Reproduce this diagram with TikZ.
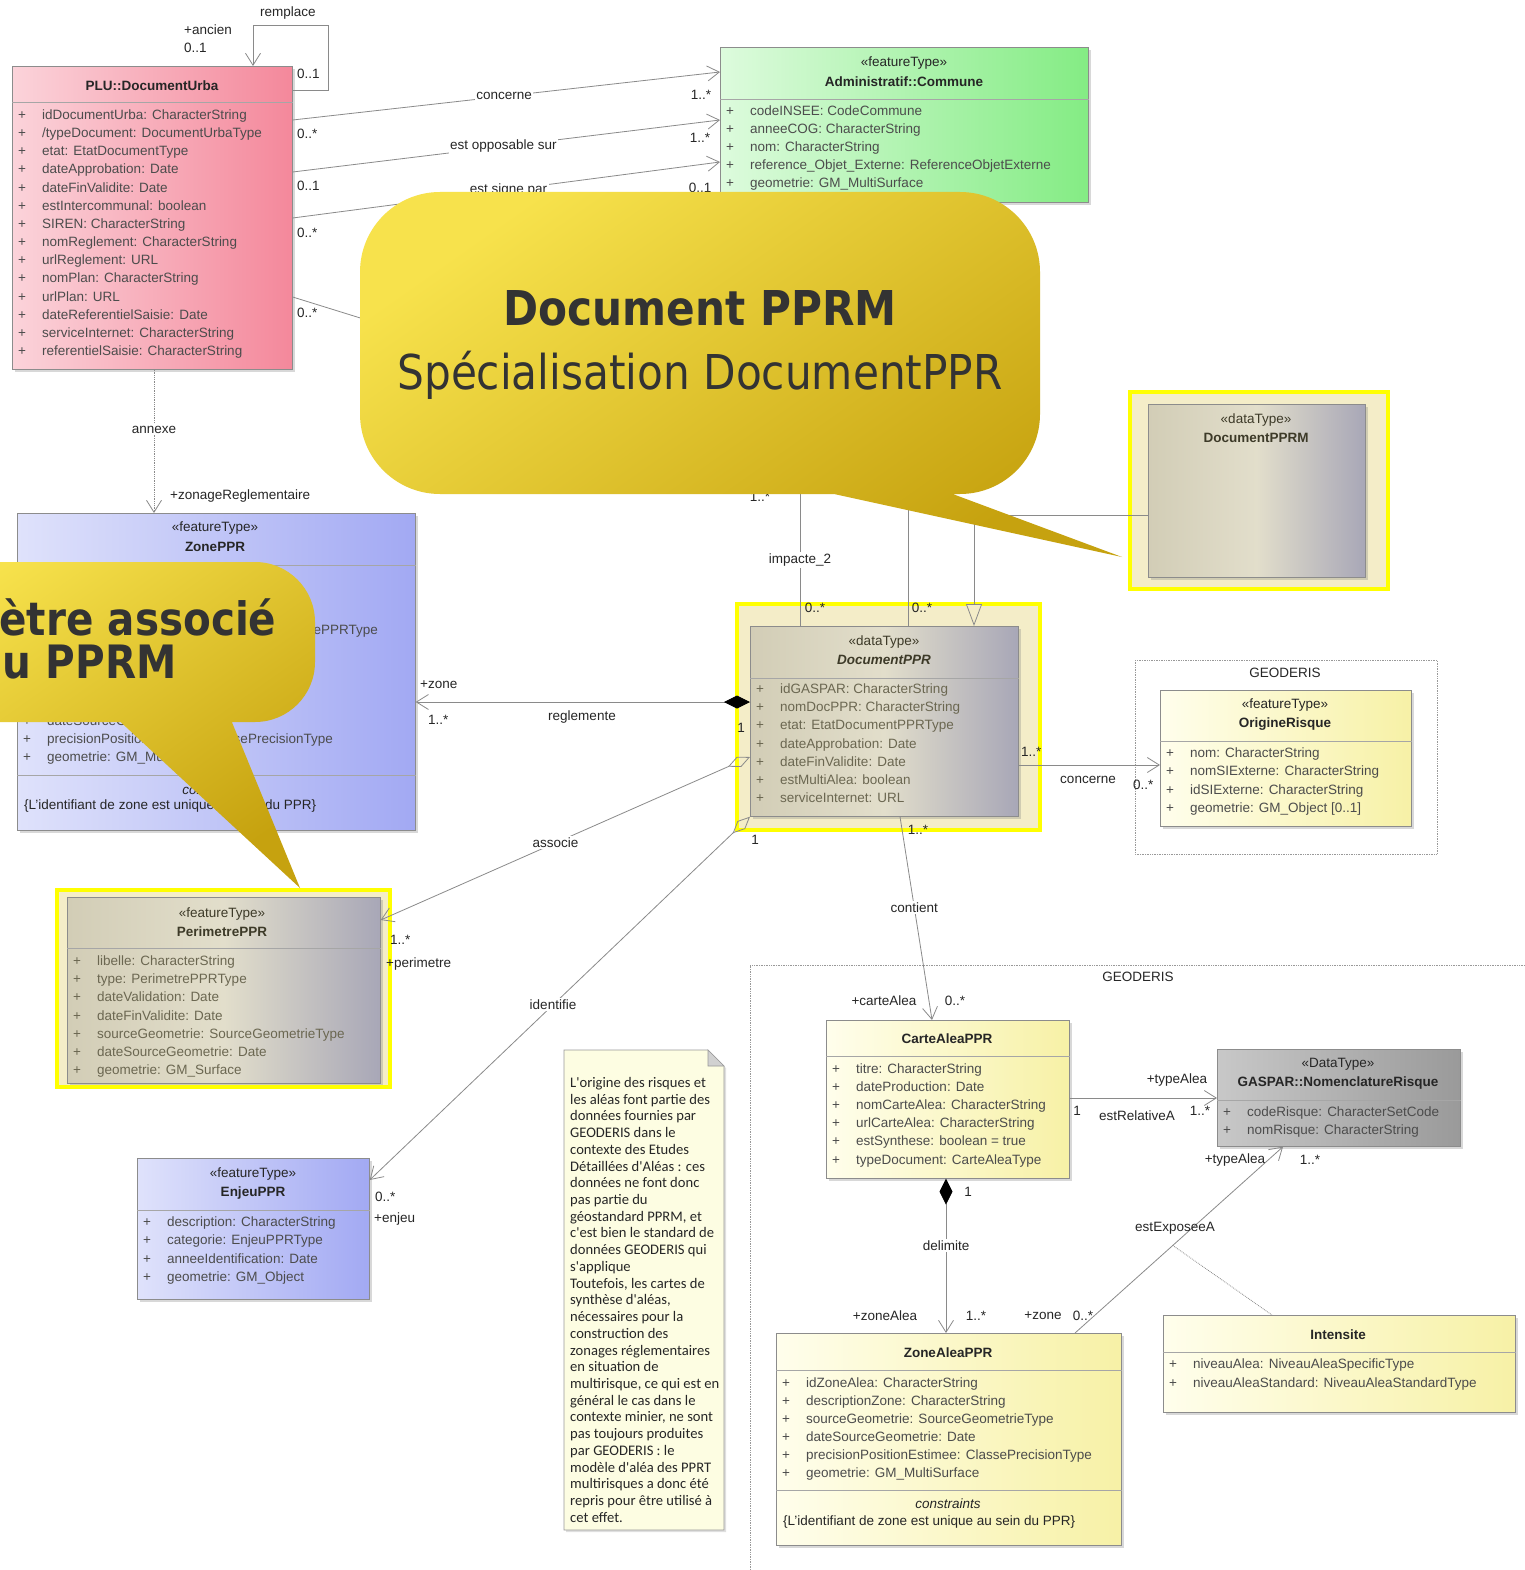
\documentclass[tikz,border=0pt]{standalone}
\usepackage{fontspec}
\setmainfont{Liberation Sans}
\newfontfamily\notefont{Carlito}
\newfontfamily\callfont[FakeStretch=0.88]{DejaVu Sans}
\usetikzlibrary{arrows.meta, shadows, positioning}

\newcommand{\sz}{\fontsize{13.5}{16}\selectfont}

\definecolor{urbaL}{HTML}{FBD3DA}
\definecolor{urbaR}{HTML}{F4889B}
\definecolor{comL}{HTML}{DDFBDD}
\definecolor{comR}{HTML}{84EC84}
\definecolor{bluL}{HTML}{DFE2FB}
\definecolor{bluR}{HTML}{A2A9F3}
\definecolor{yelL}{HTML}{FFFEEC}
\definecolor{yelR}{HTML}{F7F1A6}
\definecolor{gasL}{HTML}{C8C8C8}
\definecolor{gasR}{HTML}{9A9A9A}
\definecolor{dtL}{HTML}{D2CDB6}
\definecolor{dtM}{HTML}{E2DECB}
\definecolor{dtR}{HTML}{A8A7B7}
\definecolor{hlfill}{HTML}{F4EDC8}
\definecolor{hlline}{HTML}{FFFF00}
\definecolor{wire}{HTML}{8A8A8A}
\definecolor{dtink}{HTML}{6B6751}
\definecolor{dthead}{HTML}{3D3A28}
\definecolor{calA}{HTML}{F7E24C}
\definecolor{calB}{HTML}{C6A20F}
\definecolor{calink}{HTML}{333333}
\definecolor{notefill}{HTML}{FDFDE2}

\tikzset{
  cls/.style={draw=black!45, line width=0.7pt, anchor=north west, inner sep=0pt,
    drop shadow={shadow xshift=2.5pt, shadow yshift=-2.5pt, opacity=0.3}},
  ttl/.style={font=\sz\bfseries, text=black!85, inner sep=0pt},
  stereo/.style={font=\sz, text=black!85, inner sep=0pt},
  attr/.style={anchor=west, inner sep=0pt, text=black!70, text height=10pt, text depth=3pt},
  dtattr/.style={attr, text=dtink},
  sep/.style={draw=black!35, line width=0.7pt},
  hl/.style={draw=hlline, line width=4pt, fill=hlfill},
  assoc/.style={draw=wire, line width=0.8pt},
  navig/.style={-{Straight Barb[length=12pt,width=15pt]}},
  lbl/.style={fill=white, inner sep=1.5pt, text=black!85},
  mult/.style={inner sep=0pt, text=black!85},
  pkg/.style={draw=black!40, line width=0.7pt, densely dotted},
  callout/.style={top color=calA, bottom color=calB, shading angle=35},
}

\begin{document}
\begin{tikzpicture}[x=1pt, y=-1pt, every node/.style={font=\sz}]
\useasboundingbox (0,0) rectangle (1524,1570);
\fill[white] (0,0) rectangle (1524,1570);

% packages
\draw[pkg] (1135,660) rectangle (1437,854);
\node[mult] (geo1) at (1285,673) {GEODERIS};
\draw[pkg] (750,1580) -- (750,965) -- (1530,965);
\node[mult] (geo2) at (1138,977) {GEODERIS};

% highlights
\draw[hl] (737,604) rectangle (1040,830);
\draw[hl] (1130,392) rectangle (1388,589);
\draw[hl] (57,890) rectangle (390,1087);

% PLU::DocumentUrba
\node[cls, left color=urbaL, right color=urbaR, minimum width=280, minimum height=303] (urba) at (12,66) {};
\node[ttl] (urba-t) at (152,86) {PLU::DocumentUrba};
\draw[sep] (urba.west |- 0,102) -- (urba.east |- 0,102);
\foreach \a [count=\i from 0] in {idDocumentUrba: CharacterString, /typeDocument: DocumentUrbaType,
  etat: EtatDocumentType, dateApprobation: Date, dateFinValidite: Date, estIntercommunal: boolean,
  SIREN: CharacterString, nomReglement: CharacterString, urlReglement: URL, nomPlan: CharacterString,
  urlPlan: URL, dateReferentielSaisie: Date, serviceInternet: CharacterString, referentielSaisie: CharacterString}
  \node[attr] (urba-\i) at (18,116+18.15*\i) {\makebox[24pt][l]{+}\a};

% Administratif::Commune
\node[cls, left color=comL, right color=comR, minimum width=368, minimum height=155] (com) at (720,47) {};
\node[stereo] (com-s) at (904,63) {«featureType»};
\node[ttl] (com-t) at (904,82) {Administratif::Commune};
\draw[sep] (com.west |- 0,99) -- (com.east |- 0,99);
\foreach \a [count=\i from 0] in {codeINSEE: CodeCommune, anneeCOG: CharacterString, nom: CharacterString,
  reference\_Objet\_Externe: ReferenceObjetExterne, geometrie: GM\_MultiSurface}
  \node[attr] (com-\i) at (726,112+18.1*\i) {\makebox[24pt][l]{+}\a};

% ZonePPR
\node[cls, left color=bluL, right color=bluR, minimum width=398, minimum height=317] (zone) at (17,513) {};
\node[stereo] (zone-s) at (215,528) {«featureType»};
\node[ttl] (zone-t) at (215,547) {ZonePPR};
\draw[sep] (zone.west |- 0,565) -- (zone.east |- 0,565);
\node[attr, anchor=east] (zone-3) at (378,631) {ePPRType};
\foreach \a [count=\i from 8] in {dateSourceGeometrie: Date, precisionPositionEstimee: ClassePrecisionType,
  geometrie: GM\_MultiSurface}
  \node[attr] (zone-\i) at (23,577+18.1*\i) {\makebox[24pt][l]{+}\a};
\draw[sep] (zone.west |- 0,775) -- (zone.east |- 0,775);
\node[stereo, font=\sz\itshape] (zone-c) at (215,790) {constraints};
\node[attr, text=black!85] (zone-k) at (24,806) {\{L'identifiant de zone est unique au sein du PPR\}};

% DocumentPPR
\node[cls, left color=dtL, right color=dtR, middle color=dtM, minimum width=268, minimum height=190] (dppr) at (750,626) {};
\node[stereo, text=dthead] (dppr-s) at (884,642) {«dataType»};
\node[ttl, text=dthead, font=\sz\bfseries\itshape] (dppr-t) at (884,660) {DocumentPPR};
\draw[sep] (dppr.west |- 0,678) -- (dppr.east |- 0,678);
\foreach \a [count=\i from 0] in {idGASPAR: CharacterString, nomDocPPR: CharacterString,
  etat: EtatDocumentPPRType, dateApprobation: Date, dateFinValidite: Date, estMultiAlea: boolean,
  serviceInternet: URL}
  \node[dtattr] (dppr-\i) at (756,690+18.2*\i) {\makebox[24pt][l]{+}\a};

% DocumentPPRM
\node[cls, left color=dtL, right color=dtR, middle color=dtM, minimum width=217, minimum height=173] (dpprm) at (1148,404) {};
\node[stereo, text=dthead] (dpprm-s) at (1256,420) {«dataType»};
\node[ttl, text=dthead] (dpprm-t) at (1256,438) {DocumentPPRM};

% OrigineRisque
\node[cls, left color=yelL, right color=yelR, minimum width=251, minimum height=136] (orig) at (1160,690) {};
\node[stereo] (orig-s) at (1285,705) {«featureType»};
\node[ttl] (orig-t) at (1285,724) {OrigineRisque};
\draw[sep] (orig.west |- 0,741) -- (orig.east |- 0,741);
\foreach \a [count=\i from 0] in {nom: CharacterString, nomSIExterne: CharacterString,
  idSIExterne: CharacterString, geometrie: GM\_Object [0..1]}
  \node[attr] (orig-\i) at (1166,754+18.3*\i) {\makebox[24pt][l]{+}\a};

% PerimetrePPR
\node[cls, left color=dtL, right color=dtR, middle color=dtM, minimum width=313, minimum height=186] (peri) at (67,897) {};
\node[stereo, text=dthead] (peri-s) at (222,914) {«featureType»};
\node[ttl, text=dthead] (peri-t) at (222,932) {PerimetrePPR};
\draw[sep] (peri.west |- 0,948) -- (peri.east |- 0,948);
\foreach \a [count=\i from 0] in {libelle: CharacterString, type: PerimetrePPRType, dateValidation: Date,
  dateFinValidite: Date, sourceGeometrie: SourceGeometrieType, dateSourceGeometrie: Date,
  geometrie: GM\_Surface}
  \node[dtattr] (peri-\i) at (73,962+18.2*\i) {\makebox[24pt][l]{+}\a};
\draw[draw=hlline, line width=4pt] (57,1087) -- (390,1087);

% EnjeuPPR
\node[cls, left color=bluL, right color=bluR, minimum width=232, minimum height=141] (enjeu) at (137,1158) {};
\node[stereo] (enjeu-s) at (253,1174) {«featureType»};
\node[ttl] (enjeu-t) at (253,1193) {EnjeuPPR};
\draw[sep] (enjeu.west |- 0,1210) -- (enjeu.east |- 0,1210);
\foreach \a [count=\i from 0] in {description: CharacterString, categorie: EnjeuPPRType,
  anneeIdentification: Date, geometrie: GM\_Object}
  \node[attr] (enjeu-\i) at (143,1223+18.3*\i) {\makebox[24pt][l]{+}\a};

% CarteAleaPPR
\node[cls, left color=yelL, right color=yelR, minimum width=243, minimum height=158] (carte) at (826,1020) {};
\node[ttl] (carte-t) at (947,1039) {CarteAleaPPR};
\draw[sep] (carte.west |- 0,1056) -- (carte.east |- 0,1056);
\foreach \a [count=\i from 0] in {titre: CharacterString, dateProduction: Date, nomCarteAlea: CharacterString,
  urlCarteAlea: CharacterString, estSynthese: boolean = true, typeDocument: CarteAleaType}
  \node[attr] (carte-\i) at (832,1070+18.1*\i) {\makebox[24pt][l]{+}\a};

% GASPAR::NomenclatureRisque
\node[cls, left color=gasL, right color=gasR, minimum width=243, minimum height=97] (gasp) at (1217,1049) {};
\node[stereo] (gasp-s) at (1338,1064) {«DataType»};
\node[ttl] (gasp-t) at (1338,1083) {GASPAR::NomenclatureRisque};
\draw[sep] (gasp.west |- 0,1100) -- (gasp.east |- 0,1100);
\foreach \a [count=\i from 0] in {codeRisque: CharacterSetCode, nomRisque: CharacterString}
  \node[attr] (gasp-\i) at (1223,1113+18.2*\i) {\makebox[24pt][l]{+}\a};

% ZoneAleaPPR
\node[cls, left color=yelL, right color=yelR, minimum width=345, minimum height=212] (zal) at (776,1333) {};
\node[ttl] (zal-t) at (948,1353) {ZoneAleaPPR};
\draw[sep] (zal.west |- 0,1370) -- (zal.east |- 0,1370);
\foreach \a [count=\i from 0] in {idZoneAlea: CharacterString, descriptionZone: CharacterString,
  sourceGeometrie: SourceGeometrieType, dateSourceGeometrie: Date,
  precisionPositionEstimee: ClassePrecisionType, geometrie: GM\_MultiSurface}
  \node[attr] (zal-\i) at (782,1384+18*\i) {\makebox[24pt][l]{+}\a};
\draw[sep] (zal.west |- 0,1490) -- (zal.east |- 0,1490);
\node[stereo, font=\sz\itshape] (zal-c) at (948,1504) {constraints};
\node[attr, text=black!85] (zal-k) at (783,1522) {\{L'identifiant de zone est unique au sein du PPR\}};

% Intensite
\node[cls, left color=yelL, right color=yelR, minimum width=352, minimum height=97] (inten) at (1163,1315) {};
\node[ttl] (inten-t) at (1338,1335) {Intensite};
\draw[sep] (inten.west |- 0,1352) -- (inten.east |- 0,1352);
\foreach \a [count=\i from 0] in {niveauAlea: NiveauAleaSpecificType, niveauAleaStandard: NiveauAleaStandardType}
  \node[attr] (inten-\i) at (1169,1365+18.5*\i) {\makebox[24pt][l]{+}\a};

% note
\draw[draw=black!40, fill=notefill, line width=0.7pt, drop shadow={shadow xshift=2pt, shadow yshift=-2pt, opacity=0.25}]
  (564,1050) -- (708,1050) -- (724,1066) -- (724,1530) -- (564,1530) -- cycle;
\draw[draw=black!40, fill=black!18, line width=0.7pt] (708,1050) -- (708,1066) -- (724,1066) -- cycle;
\node[anchor=north west, align=left, inner sep=0pt, text=black!85,
  font=\notefont\fontsize{14.6}{16.73}\selectfont] (note) at (570,1077)
  {L'origine des risques et\\les aléas font partie des\\données fournies par\\GEODERIS dans le\\
   contexte des Etudes\\Détaillées d'Aléas : ces\\données ne font donc\\pas partie du\\
   géostandard PPRM, et\\c'est bien le standard de\\données GEODERIS qui\\s'applique\\
   Toutefois, les cartes de\\synthèse d'aléas,\\nécessaires pour la\\construction des\\
   zonages réglementaires\\en situation de\\multirisque, ce qui est en\\général le cas dans le\\
   contexte minier, ne sont\\pas toujours produites\\par GEODERIS : le\\modèle d'aléa des PPRT\\
   multirisques a donc été\\repris pour être utilisé à\\cet effet.};

% associations of DocumentUrba
\draw[assoc, navig] (urba.east |- 0,90) -- (328,90) -- (328,25) -- (253,25) -- (urba.north -| 253,0);
\node[mult] (remp) at (288,13) {remplace};
\node[mult, anchor=west] (anc) at (184,30) {+ancien};
\node[mult, anchor=west] (anc-m) at (184,48) {0..1};
\node[mult, anchor=west] (remp-m) at (297,74) {0..1};

\draw[assoc, navig] (urba.east |- 0,120) -- node[lbl, pos=0.495] (conc1) {concerne} (com.west |- 0,72);
\node[mult, anchor=west] (conc1-a) at (297,134) {0..*};
\node[mult] (conc1-b) at (701,95) {1..*};
\draw[assoc, navig] (urba.east |- 0,172) -- node[lbl, pos=0.493] (oppo) {est opposable sur} (com.west |- 0,120);
\node[mult, anchor=west] (oppo-a) at (297,186) {0..1};
\node[mult] (oppo-b) at (700,138) {1..*};
\draw[assoc, navig] (urba.east |- 0,218) -- node[lbl, pos=0.505] (sign) {est signe par} (com.west |- 0,162);
\node[mult, anchor=west] (sign-a) at (297,233) {0..*};
\node[mult] (sign-b) at (700,188) {0..1};
\coordinate (hid1) at (560,380);
\draw[assoc] (urba.east |- 0,297) -- (hid1);
\node[mult, anchor=west] (hid1-a) at (297,313) {0..*};

\draw[assoc, densely dotted, navig] (urba.south -| 154,0) -- node[lbl, pos=0.417] (anx) {annexe} (zone.north -| 154,0);
\node[mult, anchor=west] (anx-b) at (170,496) {+zonageReglementaire};

% associations of DocumentPPR
\draw[assoc, {Diamond[length=26pt,width=13pt,color=black]}-{Straight Barb[length=12pt,width=15pt]}]
  (dppr.west |- 0,702) -- (zone.east |- 0,702);
\node[mult] (regl) at (582,717) {reglemente};
\node[mult, anchor=west] (regl-b) at (420,685) {+zone};
\node[mult, anchor=west] (regl-c) at (428,720) {1..*};
\node[mult] (regl-a) at (741,728) {1};

\draw[assoc, {Diamond[open,length=24pt,width=11pt]}-{Straight Barb[length=12pt,width=15pt]}]
  (dppr.west |- 0,757) -- node[lbl, pos=0.527] (asso) {associe} (peri.east |- 0,920);
\node[mult, anchor=west] (asso-b) at (390,940) {1..*};
\node[mult, anchor=west] (asso-c) at (386,964) {+perimetre};

\draw[assoc, {Diamond[open,length=24pt,width=11pt]}-{Straight Barb[length=12pt,width=15pt]}]
  (dppr.south west) -- node[lbl, pos=0.518] (iden) {identifie} (enjeu.east |- 0,1180);
\node[mult] (iden-a) at (755,840) {1};
\node[mult, anchor=west] (iden-b) at (375,1197) {0..*};
\node[mult, anchor=west] (iden-c) at (374,1219) {+enjeu};

\draw[assoc, navig] (dppr.east |- 0,765) -- (orig.west |- 0,765);
\node[mult, anchor=west] (conc2-a) at (1021,752) {1..*};
\node[mult] (conc2) at (1088,780) {concerne};
\node[mult, anchor=west] (conc2-b) at (1133,785) {0..*};

\draw[assoc, navig] (dppr.south -| 900,0) -- node[lbl, pos=0.446] (cont) {contient} (carte.north -| 932,0);
\node[mult] (cont-a) at (918,830) {1..*};
\node[mult] (cont-b) at (884,1001) {+carteAlea};
\node[mult] (cont-c) at (955,1001) {0..*};

\coordinate (hid2) at (800,470);
\coordinate (hid3) at (908,470);
\draw[assoc] (dppr.north -| 800,0) -- node[lbl, pos=0.423] (imp) {impacte\_2} (hid2);
\draw[assoc] (dppr.north -| 908,0) -- (hid3);
\node[mult] (imp-a) at (815,608) {0..*};
\node[mult] (imp-b) at (922,608) {0..*};
\node[mult] (hid-m) at (760,497) {1..*};
\draw[assoc, -{Triangle[length=22pt,width=16pt,fill=hlfill]}] (dpprm.west |- 0,515) -| (dppr.north -| 974,0);

% associations inside GEODERIS
\draw[assoc, navig] (carte.east |- 0,1098) -- (gasp.west |- 0,1098);
\node[mult] (rel-a) at (1177,1080) {+typeAlea};
\node[mult] (rel-b) at (1077,1111) {1};
\node[mult] (rel) at (1137,1116) {estRelativeA};
\node[mult] (rel-c) at (1200,1111) {1..*};

\draw[assoc, {Diamond[length=26pt,width=13pt,color=black]}-{Straight Barb[length=12pt,width=15pt]}]
  (carte.south -| 946,0) -- node[lbl, pos=0.432] (deli) {delimite} (zal.north -| 946,0);
\node[mult] (deli-a) at (968,1192) {1};
\node[mult] (deli-b) at (885,1316) {+zoneAlea};
\node[mult] (deli-c) at (976,1316) {1..*};

\draw[assoc, navig] (zal.north -| 1075,0) -- coordinate[pos=0.47] (expo-mid) (gasp.south -| 1283,0);
\draw[assoc, densely dotted] (expo-mid) -- (inten.north -| 1272,0);
\node[mult] (expo) at (1175,1228) {estExposeeA};
\node[mult] (expo-a) at (1235,1160) {+typeAlea};
\node[mult] (expo-b) at (1310,1160) {1..*};
\node[mult] (expo-c) at (1043,1316) {+zone};
\node[mult] (expo-d) at (1083,1316) {0..*};

% callouts
\shade[callout] (360,192) [rounded corners=80] rectangle (1040,494)
  [sharp corners] (770,480) -- (1122,557) -- (915,480) -- cycle;
\node[text=calink, font=\callfont\bfseries\fontsize{48}{52}\selectfont] (call1a) at (700,308) {Document PPRM};
\node[text=calink, font=\callfont\fontsize{48}{52}\selectfont] (call1b) at (700,375) {Spécialisation DocumentPPR};

\shade[callout] (-120,562) [rounded corners=60] rectangle (315,722)
  [sharp corners] (113,715) -- (300,888) -- (229,715) -- cycle;
\node[text=calink, anchor=east, font=\callfont\bfseries\fontsize{46}{52}\selectfont] (call2a) at (280,617) {ètre associé};
\node[text=calink, anchor=east, font=\callfont\bfseries\fontsize{46}{52}\selectfont] (call2b) at (180,662) {u PPRM};
\end{tikzpicture}
\end{document}
